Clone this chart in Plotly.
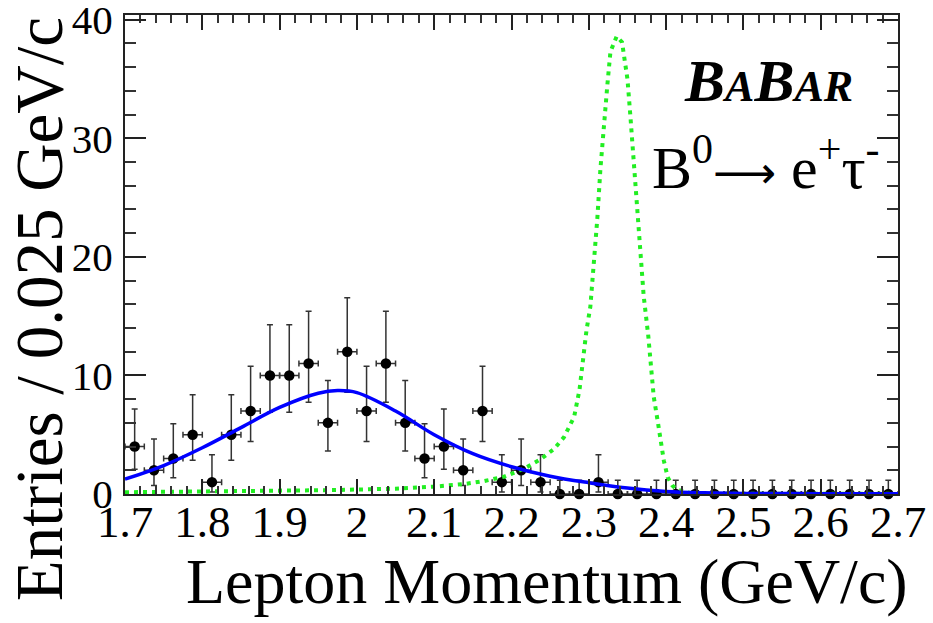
import plotly.graph_objects as go

# ---- data ----
bin_lo = 1.7
bin_width = 0.025
counts = [4, 2, 3, 5, 1, 5, 7, 10, 10, 11, 6, 12, 7, 11, 6, 3, 4, 2, 7, 1,
          2, 1, 0, 0, 1, 0, 0, 0, 0, 0, 0, 0, 0, 0, 0, 0, 0, 0, 0, 0]
err_hi = [3.16, 2.64, 2.92, 3.38, 2.30, 3.38, 3.77, 4.27, 4.27, 4.42, 3.58, 4.56, 3.77, 4.42, 3.58, 2.92, 3.16, 2.64, 3.77, 2.30,
          2.64, 2.30, 1.15, 1.15, 2.30, 1.15, 1.15, 1.15, 1.15, 1.15, 1.15, 1.15, 1.15, 1.15, 1.15, 1.15, 1.15, 1.15, 1.15, 1.15]
err_lo = [1.91, 1.29, 1.63, 2.16, 0.83, 2.16, 2.58, 3.11, 3.11, 3.27, 2.38, 3.41, 2.58, 3.27, 2.38, 1.63, 1.91, 1.29, 2.58, 0.83,
          1.29, 0.83, 0, 0, 0.83, 0, 0, 0, 0, 0, 0, 0, 0, 0, 0, 0, 0, 0, 0, 0]
bin_centers = [bin_lo + bin_width * (i + 0.5) for i in range(len(counts))]

# background fit (blue solid)
fit_x = [1.70, 1.75, 1.80, 1.85, 1.90, 1.95, 1.975, 2.00, 2.05, 2.10, 2.15, 2.20,
         2.25, 2.30, 2.35, 2.40, 2.45, 2.50, 2.60, 2.70]
fit_y = [1.25, 2.4, 3.9, 5.6, 7.3, 8.5, 8.72, 8.55, 7.0, 5.0, 3.4, 2.3,
         1.5, 0.95, 0.5, 0.22, 0.1, 0.05, 0.03, 0.03]

# signal shape (green dotted)
sig_x = [1.70, 1.80, 1.90, 1.97, 2.05, 2.10, 2.14, 2.165, 2.19, 2.215, 2.237, 2.255,
         2.268, 2.281, 2.288, 2.297, 2.302, 2.306, 2.311, 2.315, 2.319, 2.324, 2.328,
         2.336, 2.343, 2.350, 2.354, 2.359, 2.363, 2.367, 2.371, 2.377, 2.380, 2.384,
         2.389, 2.393, 2.397, 2.402, 2.408, 2.414, 2.43, 2.45, 2.50, 2.70]
sig_y = [0.15, 0.2, 0.28, 0.33, 0.45, 0.62, 0.85, 1.1, 1.45, 2.1, 2.9, 3.8,
         4.8, 6.5, 8.8, 13.8, 15.8, 18.9, 23.2, 27.4, 30.8, 34.5, 37.3,
         38.6, 38.1, 35.0, 31.7, 27.4, 23.2, 19.8, 16.7, 13.3, 11.0, 8.2,
         6.2, 4.5, 2.84, 1.42, 0.72, 0.36, 0.1, 0.03, 0.01, 0.01]

FONT = "Liberation Serif"

fig = go.Figure()

fig.add_trace(go.Scatter(
    x=bin_centers, y=counts, mode="markers",
    marker=dict(color="black", size=10.5),
    error_y=dict(type="data", symmetric=False, array=err_hi, arrayminus=err_lo,
                 color="#333333", thickness=1.5, width=3),
    error_x=dict(type="constant", value=bin_width / 2,
                 color="#333333", thickness=1.5, width=3),
    cliponaxis=False, showlegend=False,
))

fig.add_trace(go.Scatter(
    x=sig_x, y=sig_y, mode="lines",
    line=dict(color="#22ee22", width=4, dash="4px,5px"),
    showlegend=False,
))

fig.add_trace(go.Scatter(
    x=fit_x, y=fit_y, mode="lines",
    line=dict(color="#0000ff", width=3.5, shape="spline"),
    showlegend=False,
))

axis_common = dict(
    showline=True, linecolor="#222222", linewidth=2, mirror="allticks",
    ticks="inside", tickcolor="#222222", tickwidth=2,
    showgrid=False, zeroline=False, ticklabeloverflow="allow", automargin=False,
)

fig.update_xaxes(
    range=[1.7, 2.7], tick0=1.7, dtick=0.1, ticklen=15,
    minor=dict(ticks="inside", dtick=0.02, ticklen=8, tickwidth=1.5, tickcolor="#333333"),
    ticklabelstandoff=-13,
    tickfont=dict(family=FONT, size=45, color="black"),
    **axis_common,
)
fig.update_yaxes(
    range=[0, 40.4], tick0=0, dtick=10, ticklen=21,
    minor=dict(ticks="inside", dtick=2, ticklen=11, tickwidth=1.5, tickcolor="#333333"),
    ticklabelstandoff=2,
    tickfont=dict(family=FONT, size=41, color="black"),
    **axis_common,
)

fig.update_layout(
    width=933, height=623,
    margin=dict(l=125, r=35, t=15, b=129, autoexpand=False),
    paper_bgcolor="white", plot_bgcolor="white",
    font=dict(family=FONT, color="black"),
    annotations=[
        dict(text="Lepton Momentum (GeV/c)", xref="paper", yref="paper",
             x=1.016, y=-0.262, xanchor="right", yanchor="bottom", showarrow=False,
             font=dict(family=FONT, size=64, color="black")),
        dict(text="Entries / 0.025 GeV/c", xref="paper", yref="paper",
             x=-0.111, y=1.0, xanchor="center", yanchor="top", textangle=-90,
             showarrow=False, font=dict(family=FONT, size=67, color="black")),
        dict(text="<b><i>B<span style='font-size:44px'>A</span>B<span style='font-size:44px'>AR</span></i></b>",
             xref="paper", yref="paper", x=0.833, y=0.862, xanchor="center", yanchor="middle",
             showarrow=False, font=dict(family=FONT, size=60, color="black")),
        dict(text="B<sup>0</sup><span style='font-family:DejaVu Sans;font-size:44px'>\u27f6</span> e<sup>+</sup>\u03c4<sup>-</sup>",
             xref="paper", yref="paper", x=0.829, y=0.69, xanchor="center", yanchor="middle",
             showarrow=False, font=dict(family=FONT, size=60, color="black")),
    ],
)

fig.write_html("out.html")
